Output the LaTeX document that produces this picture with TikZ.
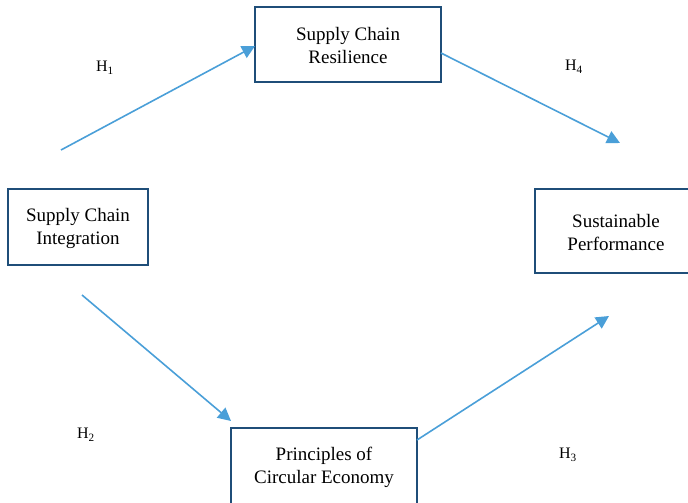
\documentclass[tikz,border=0pt]{standalone}
\usepackage{fontspec}
\setmainfont{Liberation Serif}
\usetikzlibrary{arrows.meta}
\definecolor{boxblue}{HTML}{1F4E79}
\definecolor{arrblue}{HTML}{4A9FD8}
\begin{document}
\begin{tikzpicture}[x=1pt,y=-1pt,
  concept/.style={draw=boxblue,line width=1.6pt,fill=white,align=center,
    font=\fontsize{19}{23}\selectfont,inner sep=0pt},
  ctext/.style={font=\fontsize{19}{23}\selectfont,align=center,inner sep=0pt},
  link/.style={draw=arrblue,line width=1.6pt,-{Triangle[length=13pt,width=13pt]}},
  hyp/.style={font=\fontsize{16}{18}\selectfont,inner sep=0pt}]
\useasboundingbox (0,0) rectangle (688,503);
\clip (0,0) rectangle (688,503);
\node[concept,minimum width=186pt,minimum height=75pt] (scr) at (348,44.5) {};
\node[ctext] (scrt) at (348,46) {Supply Chain\\Resilience};
\node[concept,minimum width=140pt,minimum height=76pt] (sci) at (78,227) {};
\node[ctext] (scit) at (78,228) {Supply Chain\\Integration};
\node[concept,minimum width=160pt,minimum height=84pt] (sp) at (615,231) {};
\node[ctext] (spt) at (616,232) {Sustainable\\Performance};
\node[concept,minimum width=186pt,minimum height=90pt] (pce) at (324,473) {};
\node[ctext] (pcet) at (324,467) {Principles of\\Circular Economy};
\coordinate (a1s) at (61,150);
\coordinate (a1e) at (255,46);
\coordinate (a4s) at (441,53);
\coordinate (a4e) at (620,143);
\coordinate (a2s) at (82,295);
\coordinate (a2e) at (231,421);
\coordinate (a3s) at (417,440);
\coordinate (a3e) at (609,316);
\draw[link] (a1s) -- (a1e);
\draw[link] (a4s) -- (a4e);
\draw[link] (a2s) -- (a2e);
\draw[link] (a3s) -- (a3e);
\node[hyp] (h1) at (105,68) {H\textsubscript{1}};
\node[hyp] (h4) at (574,67) {H\textsubscript{4}};
\node[hyp] (h2) at (86,435) {H\textsubscript{2}};
\node[hyp] (h3) at (568,455) {H\textsubscript{3}};
\end{tikzpicture}
\end{document}
